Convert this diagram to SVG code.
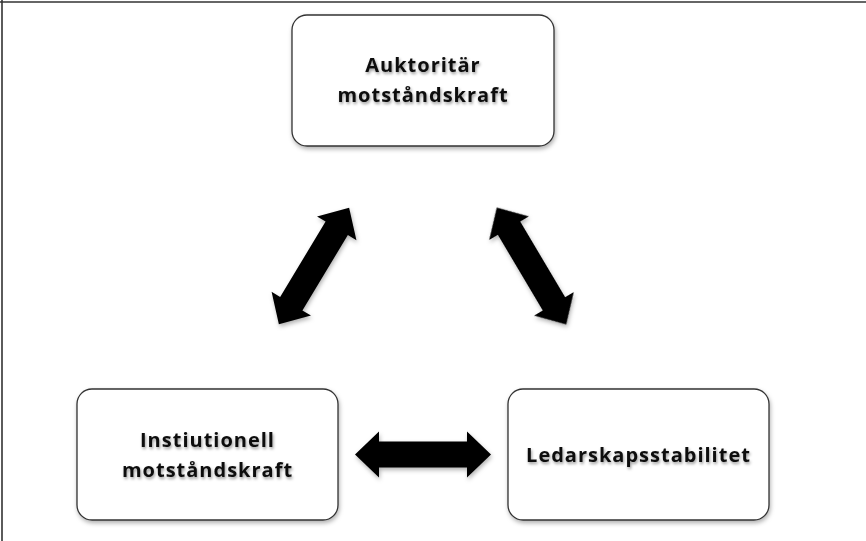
<svg xmlns="http://www.w3.org/2000/svg" xmlns:xlink="http://www.w3.org/1999/xlink" width="866" height="541" viewBox="0 0 866 541">
<style>
.box{fill:#fff;stroke:#333;stroke-width:1.3}
.lbl{font-family:"Open Sans","Noto Sans","Liberation Sans",sans-serif;font-weight:bold;font-size:20px;letter-spacing:1px;fill:#111;text-anchor:middle}
.arr{fill:#000}
</style>
<defs>
<filter id="bs" x="-10%" y="-10%" width="120%" height="130%">
<feDropShadow dx="1" dy="2.5" stdDeviation="2" flood-color="#000" flood-opacity="0.3"/>
</filter>
<filter id="ts" x="-10%" y="-30%" width="120%" height="160%">
<feDropShadow dx="1" dy="2" stdDeviation="1.6" flood-color="#000" flood-opacity="0.4"/>
</filter>
<path id="dbl" d="M-68,0 L-44,-23 L-44,-13 L44,-13 L44,-23 L68,0 L44,23 L44,13 L-44,13 L-44,23 Z"/>
</defs>
<rect width="866" height="541" fill="#fff"/>
<line x1="0" y1="2" x2="866" y2="2" stroke="#333" stroke-width="1.6"/>
<line x1="2" y1="0" x2="2" y2="541" stroke="#333" stroke-width="1.6"/>

<g id="connectors" class="arr" filter="url(#bs)">
<use xlink:href="#dbl" href="#dbl" transform="translate(314,266) rotate(-58.9)"/>
<use xlink:href="#dbl" href="#dbl" transform="translate(531.5,266) rotate(59.3)"/>
<use xlink:href="#dbl" href="#dbl" transform="translate(423,454.5)"/>
</g>

<g id="node-auktoritar">
<rect class="box" x="292" y="15" width="262" height="131" rx="15" filter="url(#bs)"/>
<text class="lbl" filter="url(#ts)"><tspan x="423" y="72">Auktoritär</tspan><tspan x="423" y="102">motståndskraft</tspan></text>
</g>

<g id="node-institutionell">
<rect class="box" x="77" y="389" width="261" height="131" rx="15" filter="url(#bs)"/>
<text class="lbl" filter="url(#ts)"><tspan x="207.5" y="447">Instiutionell</tspan><tspan x="207.5" y="477">motståndskraft</tspan></text>
</g>

<g id="node-ledarskap">
<rect class="box" x="508" y="389" width="261" height="131" rx="15" filter="url(#bs)"/>
<text class="lbl" filter="url(#ts)" x="638.5" y="462">Ledarskapsstabilitet</text>
</g>
</svg>
